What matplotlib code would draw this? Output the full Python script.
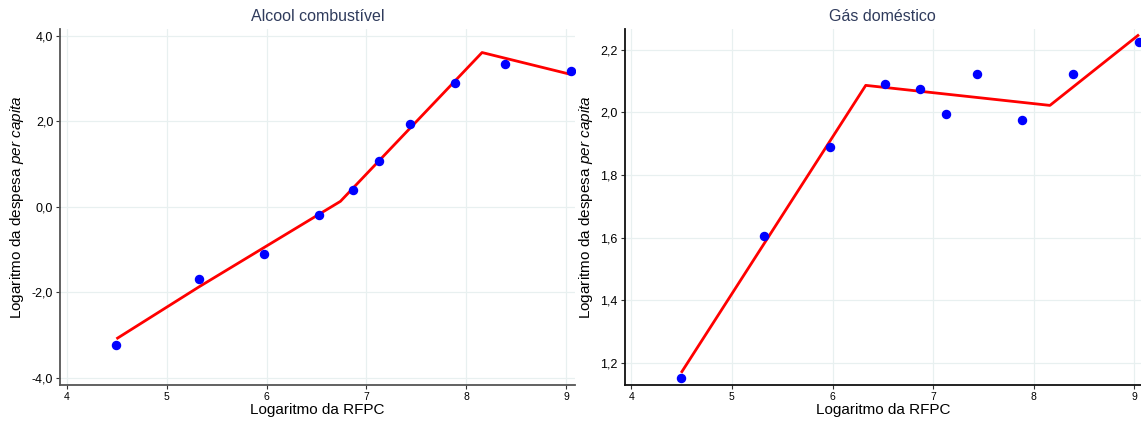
import matplotlib
matplotlib.use("Agg")
import matplotlib.pyplot as plt
from matplotlib.ticker import FuncFormatter

plt.rcParams['font.family'] = ['Liberation Sans', 'DejaVu Sans']
plt.rcParams['mathtext.fontset'] = 'custom'
plt.rcParams['mathtext.rm'] = 'Liberation Sans'
plt.rcParams['mathtext.it'] = 'Liberation Sans:italic'

# Data
x_rfpc = [4.496, 5.323, 5.976, 6.524, 6.869, 7.128, 7.44, 7.885, 8.39, 9.045]
alcool_pts = [-3.23, -1.685, -1.11, -0.186, 0.397, 1.073, 1.95, 2.90, 3.35, 3.17]
gas_pts = [1.152, 1.6045, 1.890, 2.089, 2.073, 1.995, 2.122, 1.974, 2.1235, 2.226]

alcool_line_x = [4.496, 5.323, 6.74, 8.159, 9.045]
alcool_line_y = [-3.085, -1.87, 0.13, 3.61, 3.10]
gas_line_x = [4.496, 6.33, 8.16, 9.045]
gas_line_y = [1.168, 2.086, 2.022, 2.248]

titles = ["Alcool combustível", "Gás doméstico"]
xticks = [4, 5, 6, 7, 8, 9]
alcool_yticks = [-4.0, -2.0, 0.0, 2.0, 4.0]
gas_yticks = [1.2, 1.4, 1.6, 1.8, 2.0, 2.2]

W, H = 1141, 421
fig = plt.figure(figsize=(W / 100, H / 100), dpi=100)

def box(l, r, t, b):
    return [l / W, 1 - b / H, (r - l) / W, (b - t) / H]

ax1 = fig.add_axes(box(60.3, 575, 29, 384.7))
ax2 = fig.add_axes(box(624.6, 1141, 29, 384.7))

fmt = FuncFormatter(lambda v, p: f"{v:.1f}".replace(".", ","))

panels = [
    (ax1, alcool_pts, alcool_line_x, alcool_line_y, alcool_yticks, (-4.157, 4.16), '#555555'),
    (ax2, gas_pts, gas_line_x, gas_line_y, gas_yticks, (1.13, 2.266), '#111111'),
]

for i, (ax, pts, lx, ly, yt, ylim, spc) in enumerate(panels):
    ax.plot(lx, ly, color='#ff0000', lw=2, zorder=3, solid_capstyle='butt')
    ax.plot(x_rfpc, pts, 'o', color='#0000ff', ms=5.8, zorder=4, clip_on=True)
    ax.set_xlim(3.934, 9.09 if i == 0 else 9.065)
    ax.set_ylim(*ylim)
    ax.set_xticks(xticks)
    ax.set_yticks(yt)
    ax.yaxis.set_major_formatter(fmt)
    ax.grid(True, color='#e8f0f0', lw=0.9)
    ax.set_axisbelow(True)
    for s in ['top', 'right']:
        ax.spines[s].set_visible(False)
    for s in ['left', 'bottom']:
        ax.spines[s].set_color(spc)
        ax.spines[s].set_linewidth(1.3)
    ax.tick_params(axis='x', labelsize=7.5, length=3, color='#333333', pad=2)
    ax.tick_params(axis='y', labelsize=9, length=3, color='#333333', pad=2)
    ax.set_xlabel("Logaritmo da RFPC", fontsize=11, labelpad=1)
    ax.set_ylabel(r"Logaritmo da despesa $\mathit{per\ capita}$", fontsize=11, labelpad=4)
    ax.set_title(titles[i], fontsize=11.5, color='#2f3b5c', pad=6)

fig.savefig("out.png", dpi=100)
